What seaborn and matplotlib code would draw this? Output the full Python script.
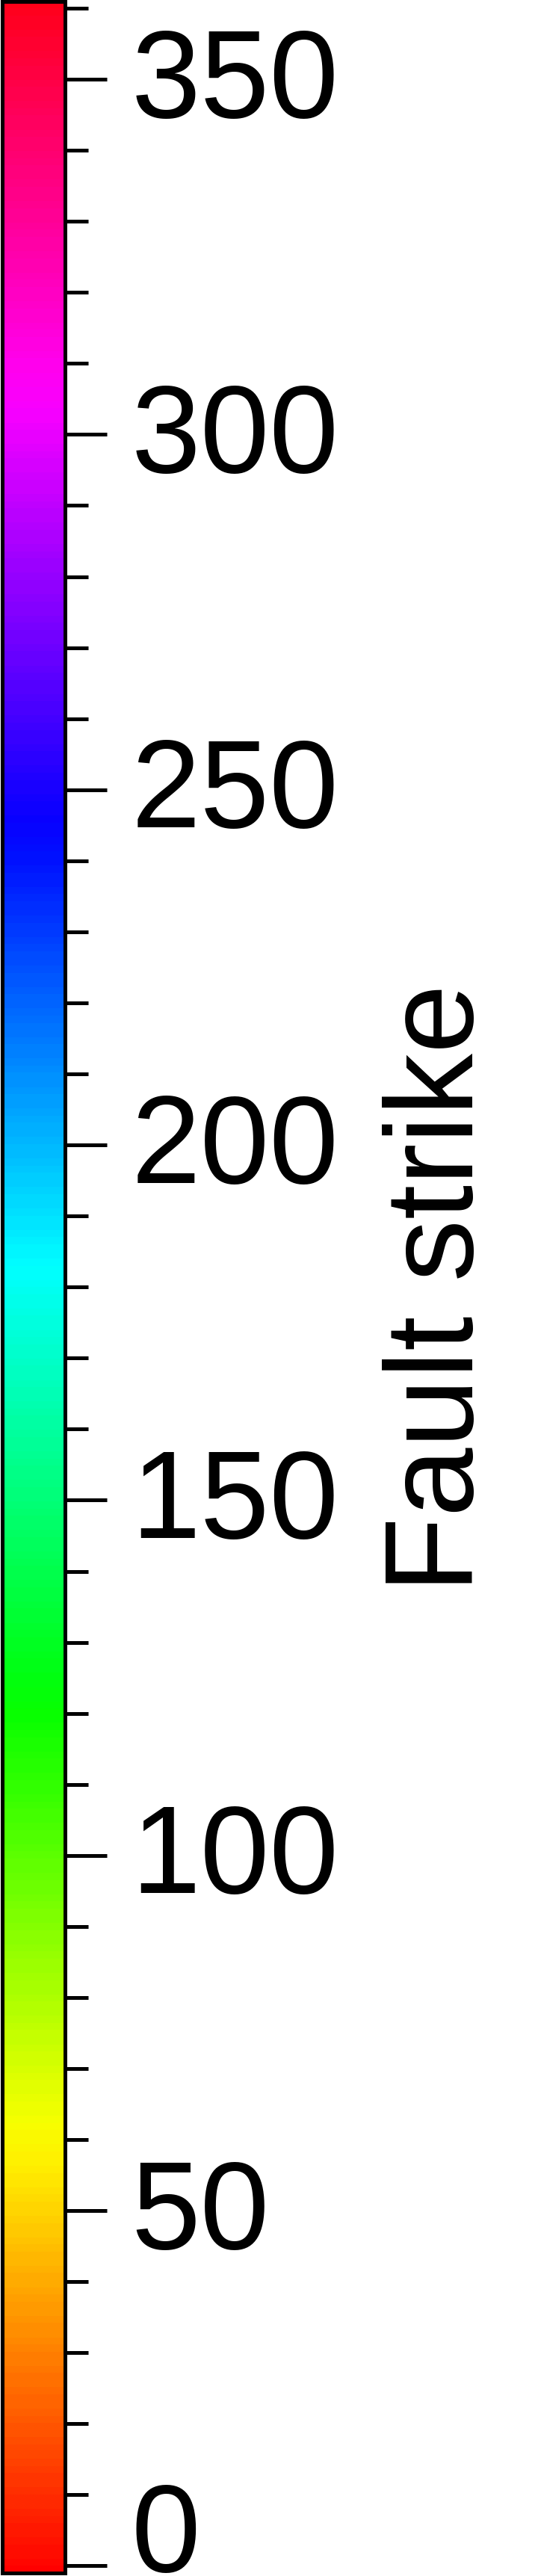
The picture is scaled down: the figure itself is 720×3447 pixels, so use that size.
import numpy as np
import matplotlib
matplotlib.use("Agg")
import matplotlib.pyplot as plt
import matplotlib.colors as mcolors
import matplotlib.cm as cm
import matplotlib.transforms as mtransforms
from matplotlib.ticker import MultipleLocator
import seaborn as sns

# -----------------------------
# Colour scale values
# -----------------------------
strike_min = -1
strike_max = 361
major_ticks = [0, 50, 100, 150, 200, 250, 300, 350]
tick_labels = ["0", "50", "100", "150", "200", "250", "300", "350"]
minor_step = 10
n_colors = 360
label = "Fault strike"

sns.set_style("ticks")
plt.rcParams['font.family'] = ['Liberation Sans', 'DejaVu Sans']
plt.rcParams['text.color'] = 'black'
plt.rcParams['axes.labelcolor'] = 'black'

# -----------------------------
# Colourbar
# -----------------------------
fig = plt.figure(figsize=(7.2, 34.48), dpi=100)
W, H = 720, 3448
cax = fig.add_axes([2.5 / W, 4 / H, 84 / W, (3444 - 2.5) / H])

cmap = mcolors.ListedColormap(sns.color_palette("hsv", n_colors))
norm = mcolors.Normalize(vmin=strike_min, vmax=strike_max)
sm = cm.ScalarMappable(norm=norm, cmap=cmap)
cbar = fig.colorbar(sm, cax=cax, orientation="vertical")

cbar.outline.set_linewidth(3.6)
cbar.outline.set_edgecolor("black")
cbar.set_ticks(major_ticks)
cbar.set_ticklabels(tick_labels)
cax.yaxis.set_minor_locator(MultipleLocator(minor_step))
cax.tick_params(which="major", length=40, width=3.6, pad=24,
                labelsize=120, colors="black")
cax.tick_params(which="minor", length=22, width=3.6, colors="black")
cbar.set_label(label, fontsize=120, labelpad=42, color="black")

# labels sit a little above their ticks
lift = mtransforms.ScaledTranslation(0, 11 / 100, fig.dpi_scale_trans)
labels = cax.get_yticklabels()
for t in labels[1:]:
    t.set_transform(t.get_transform() + lift)
# keep the lowest label inside the figure
labels[0].set_va("baseline")
drop = mtransforms.ScaledTranslation(0, -7 / 100, fig.dpi_scale_trans)
labels[0].set_transform(labels[0].get_transform() + drop)

fig.savefig("out.png", dpi=100)
